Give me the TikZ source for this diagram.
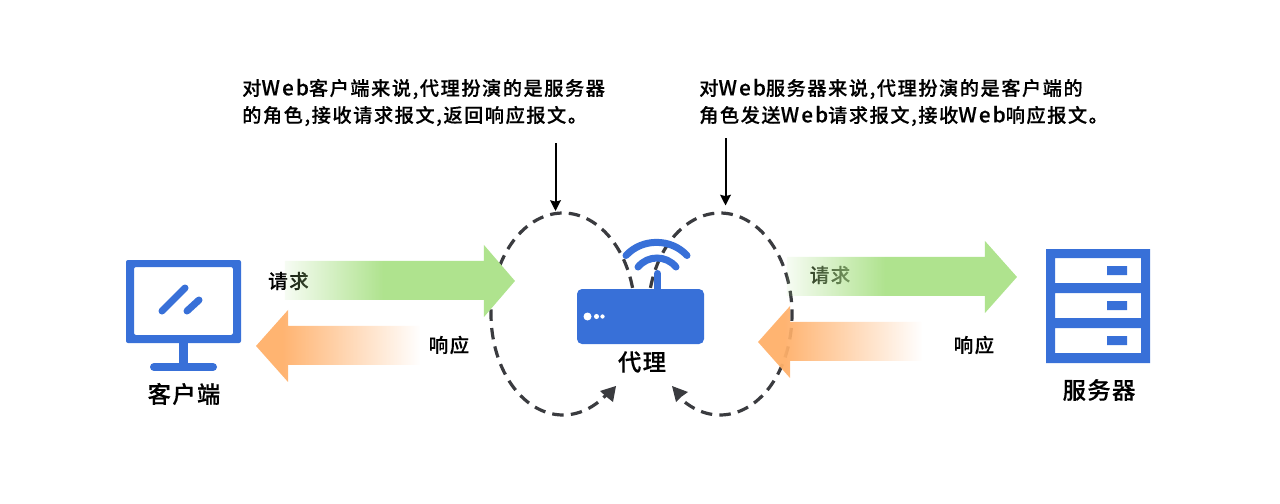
\documentclass[tikz,border=0pt]{standalone}
\usepackage{fontspec}
\setmainfont{Noto Sans CJK SC Medium}[LetterSpace=8,FakeBold=0.25]
\newfontfamily\labelfont{Noto Sans CJK SC Medium}[LetterSpace=6,FakeBold=0.3]
\newfontfamily\webfont{Noto Sans CJK SC Medium}[LetterSpace=10,FakeBold=0.25,Scale=1.08]
\usetikzlibrary{arrows.meta,fadings}
\newcommand{\spacedweb}{{\webfont Web}}
\definecolor{iconblue}{HTML}{3870D8}
\definecolor{loopgray}{HTML}{3A3B3F}
\definecolor{reqgreen}{HTML}{AFE38E}
\definecolor{resporange}{HTML}{FFB06A}
\pgfdeclarehorizontalshading{greenfs}{100bp}{color(0bp)=(pgftransparent!90); color(25bp)=(pgftransparent!90); color(46.5bp)=(pgftransparent!0); color(100bp)=(pgftransparent!0)}
\pgfdeclarefading{greenfade}{\pgfuseshading{greenfs}}
\pgfdeclarehorizontalshading{orangefs}{100bp}{color(0bp)=(pgftransparent!5); color(33bp)=(pgftransparent!5); color(75bp)=(pgftransparent!100); color(100bp)=(pgftransparent!100)}
\pgfdeclarefading{orangefade}{\pgfuseshading{orangefs}}
\tikzset{
  note/.style={font=\fontsize{14.4pt}{20.25pt}\selectfont, align=left, anchor=west, inner sep=0pt, text=black},
  flowlabel/.style={font=\fontsize{14.6pt}{16pt}\selectfont, anchor=center, inner sep=0pt, text=black},
  iconlabel/.style={font=\labelfont\fontsize{17.5pt}{20pt}\selectfont, anchor=center, inner sep=0pt, text=black},
  loopline/.style={draw=loopgray, line width=2.4pt, dash pattern=on 8.6pt off 5.4pt},
  loophead/.style={fill=loopgray},
  pointer/.style={draw=black, line width=1.5pt, -{Stealth[length=8pt,width=8pt,inset=1pt]}},
  greenarrow/.style={fill=reqgreen, path fading=greenfade},
  orangearrow/.style={fill=resporange, path fading=orangefade},
  iconfill/.style={fill=iconblue},
  iconstroke/.style={draw=iconblue, line cap=round},
}
\begin{document}
\begin{tikzpicture}[x=0.75pt,y=-0.75pt]
\useasboundingbox (0,0) rectangle (1280,503);
\fill[white] (0,0) rectangle (1280,503);

% loops
\draw[loopline] plot[domain=-15:-308,samples=120,smooth] ({563+72*cos(\x)},{314+101*sin(\x)});
\fill[loophead] (616,386) -- (600,391) -- (606,396.5) -- (613,402) -- cycle;
\draw[loopline] plot[domain=-165:128,samples=120,smooth] ({720+72*cos(\x)},{314+101*sin(\x)});
\fill[loophead] (672,386) -- (688,392) -- (681,397) -- (676,402) -- cycle;

% texts
\node[note] (noteL) at (242,102.5) {对\spacedweb 客户端来说,代理扮演的是服务器\\的角色,接收请求报文,返回响应报文。};
\node[note] (noteR) at (699,102.5) {对\spacedweb 服务器来说,代理扮演的是客户端的\\角色发送\spacedweb 请求报文,接收\spacedweb 响应报文。};
\node[flowlabel] (reqL) at (288.5,281) {请求};
\node[flowlabel] (respL) at (449,345) {响应};
\node[flowlabel] (reqR) at (830,275) {请求};
\node[flowlabel] (respR) at (974,345) {响应};

% pointers
\coordinate (pa) at (555.5,143);
\coordinate (pb) at (555.5,211);
\coordinate (pc) at (725.5,138);
\coordinate (pd) at (725.5,205.5);
\draw[pointer] (pa) -- (pb);
\draw[pointer] (pc) -- (pd);

% flow arrows
\path[greenarrow] (285,261) -- (484,261) -- (484,245) -- (515,281) -- (484,317) -- (484,300) -- (285,300) -- cycle;
\path[greenarrow] (787,257) -- (985,257) -- (985,241) -- (1017,277) -- (985,313) -- (985,296) -- (787,296) -- cycle;
\path[orangearrow] (256,346) -- (288,310) -- (288,326) -- (420,326) -- (420,365) -- (288,365) -- (288,382) -- cycle;
\path[orangearrow] (758,342) -- (790,306) -- (790,322) -- (922,322) -- (922,361) -- (790,361) -- (790,378) -- cycle;

% client icon
\fill[iconfill, rounded corners=1.5pt, even odd rule] (126,260) rectangle (241,343) (134,267) rectangle (233,335);
\fill[iconfill] (179,343) rectangle (188,364);
\draw[iconstroke, line width=6pt] (154,367) -- ++(59,0);
\draw[iconstroke, line width=5.25pt] (162,311) -- (185,288);
\draw[iconstroke, line width=5.25pt] (187,311) -- (199,300);
\node[iconlabel] (client) at (184,394) {客户端};

% proxy icon
\fill[iconfill, rounded corners=3.75pt] (577,289) rectangle (704,344);
\draw[iconstroke, line width=5.25pt] (657.5,293) -- (657.5,273.5);
\draw[iconstroke, line width=5.25pt] (626,255.5) .. controls (642,238) and (671,238) .. (687,255.5);
\draw[iconstroke, line width=5.25pt] (638,267) .. controls (648,255) and (666,255) .. (676,267);
\fill[white] (587.5,316.5) circle (3pt) (596.5,316.5) circle (1.9pt) (602.5,316.5) circle (1.6pt);
\node[iconlabel] (proxy) at (642,362) {代理};

% server icon
\fill[iconfill, even odd rule] (1046,249) rectangle (1150,363)
  (1055,258) rectangle (1141,283) (1055,293) rectangle (1141,318) (1055,328) rectangle (1141,353);
\fill[iconfill] (1107,266) rectangle (1127,275) (1107,301) rectangle (1127,310) (1107,336) rectangle (1127,345);
\node[iconlabel] (server) at (1099,390) {服务器};
\end{tikzpicture}
\end{document}
